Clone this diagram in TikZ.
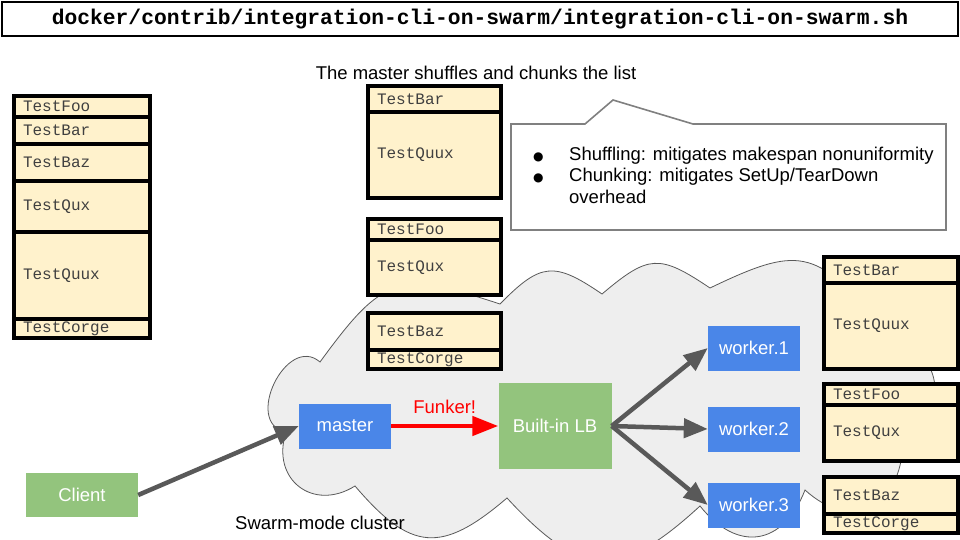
\documentclass[tikz,border=0pt]{standalone}
\usepackage{fontspec}
\setmainfont{Liberation Sans}
\setmonofont{Liberation Mono}
\newfontfamily\dotfont{DejaVu Sans}
\usetikzlibrary{arrows.meta}
\definecolor{cream}{HTML}{FFF2CC}
\definecolor{gblue}{HTML}{4A86E8}
\definecolor{ggreen}{HTML}{93C47D}
\definecolor{garrow}{HTML}{595959}
\definecolor{gcloud}{HTML}{EEEEEE}
\definecolor{gred}{HTML}{FF0000}
\begin{document}
\begin{tikzpicture}[x=1pt,y=-1pt,
testrow/.style={rectangle,draw=black,line width=3.6pt,fill=cream,anchor=north west,outer sep=0pt,
  inner xsep=9pt,inner ysep=0pt,text width=\W-18pt,minimum height=#1,align=left,
  font=\ttfamily\fontsize{16}{16}\selectfont,text=black!75},
blue/.style={rectangle,fill=gblue,text=white,minimum width=92pt,minimum height=45pt,font=\fontsize{18.5}{18.5}\selectfont},
green/.style={rectangle,fill=ggreen,text=white,font=\fontsize{18.5}{18.5}\selectfont},
label/.style={font=\fontsize{18.5}{18.5}\selectfont},
puff/.style={bend left=#1,looseness=1.45},
flow/.style={draw=garrow,line width=4.5pt,-{Triangle[length=24pt,width=19pt]}},
funk/.style={draw=gred,line width=4.5pt,-{Triangle[length=26pt,width=19pt]}}]
\useasboundingbox (0,0) rectangle (960,540);

% Title
\node[draw=black,line width=1.5pt,minimum width=956pt,minimum height=34pt,
  font=\ttfamily\bfseries\fontsize{21.3}{21.3}\selectfont] (title) at (480,19)
  {docker/contrib/integration-cli-on-swarm/integration-cli-on-swarm.sh};

% Swarm-mode cluster
\draw[draw=black!65,fill=gcloud,line width=0.8pt]
  (286,432) to[puff=105] (320,362) to[puff=36] (500,304) to[puff=40] (602,294)
  to[puff=37] (710,288) to[puff=37] (880,322) to[puff=50] (902,455)
  to[puff=62] (805,490) to[puff=60] (700,506) to[puff=45] (507,498)
  to[puff=45] (355,486) to[puff=70] cycle;
\node[label] (clusterlabel) at (320,523) {Swarm-mode cluster};

% Test list
\def\W{136pt}
\def\X{14}
\node[testrow=21pt] (lFoo) at (\X,96) {TestFoo};
\node[testrow=27pt] (lBar) at (\X,117) {TestBar};
\node[testrow=37pt] (lBaz) at (\X,144) {TestBaz};
\node[testrow=51pt] (lQux) at (\X,181) {TestQux};
\node[testrow=87pt] (lQuux) at (\X,232) {TestQuux};
\node[testrow=19pt] (lCorge) at (\X,319) {TestCorge};

% Chunks made by the master
\node[label] (shuffle) at (476,73) {The master shuffles and chunks the list};
\def\W{133pt}
\def\X{368}
\node[testrow=26pt] (mBar) at (\X,86) {TestBar};
\node[testrow=86pt] (mQuux) at (\X,112) {TestQuux};
\node[testrow=21pt] (mFoo) at (\X,219) {TestFoo};
\node[testrow=55pt] (mQux) at (\X,240) {TestQux};
\node[testrow=37pt] (mBaz) at (\X,313) {TestBaz};
\node[testrow=19pt] (mCorge) at (\X,350) {TestCorge};

% Note
\draw[draw=black!50,fill=white,line width=1.6pt] (511,124) -- (585,124) -- (613,100) -- (693,124)
  -- (946,124) -- (946,230) -- (511,230) -- cycle;
\node[anchor=north west,inner sep=0pt,font=\fontsize{18.5}{21.5}\selectfont] (note) at (533,145)
  {\begin{tabular}{@{}p{36pt}@{}l@{}}
   {\dotfont\fontsize{12}{12}\selectfont ●} & Shuffling: mitigates makespan nonuniformity\\
   {\dotfont\fontsize{12}{12}\selectfont ●} & Chunking: mitigates SetUp/TearDown\\
   & overhead
   \end{tabular}};

% Chunks at the workers
\def\W{134pt}
\def\X{824}
\node[testrow=26pt] (rBar) at (\X,257) {TestBar};
\node[testrow=86pt] (rQuux) at (\X,283) {TestQuux};
\node[testrow=21pt] (rFoo) at (\X,384) {TestFoo};
\node[testrow=56pt] (rQux) at (\X,405) {TestQux};
\node[testrow=37pt] (rBaz) at (\X,477) {TestBaz};
\node[testrow=19pt] (rCorge) at (\X,514) {TestCorge};

% Nodes
\node[green,minimum width=112pt,minimum height=44pt] (client) at (82,495) {Client};
\node[blue] (master) at (345,426) {master};
\node[green,minimum width=113pt,minimum height=86pt] (lb) at (555,426) {Built-in LB};
\node[blue] (worker1) at (754,348) {worker.1};
\node[blue] (worker2) at (754,429) {worker.2};
\node[blue] (worker3) at (754,505) {worker.3};

% Arrows
\draw[flow] (client.east) -- (master.west);
\draw[funk] (master.east) -- node[above=7pt,text=gred,font=\fontsize{18.5}{18.5}\selectfont] (funker) {Funker!} (lb.west);
\draw[flow] (lb.east) -- (worker1.west);
\draw[flow] (lb.east) -- (worker2.west);
\draw[flow] (lb.east) -- (worker3.west);

\end{tikzpicture}
\end{document}
